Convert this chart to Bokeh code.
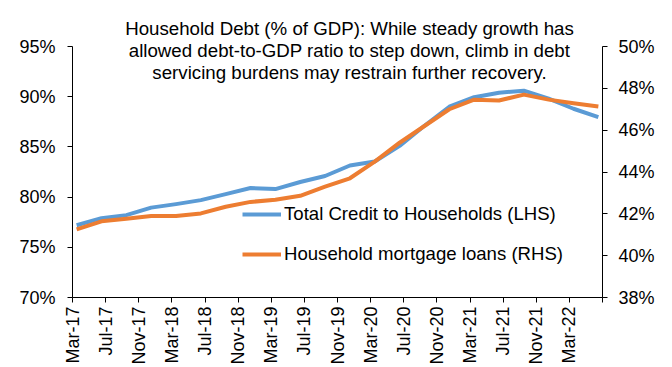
from bokeh.plotting import figure
from bokeh.models import (Range1d, LinearAxis, FixedTicker, Legend, LegendItem,
                          Label, PrintfTickFormatter, ColumnDataSource)
from bokeh.embed import file_html
from bokeh.resources import INLINE

# ---- data -------------------------------------------------------------
quarters = ["Mar-17", "Jun-17", "Sep-17", "Dec-17", "Mar-18", "Jun-18", "Sep-18", "Dec-18",
            "Mar-19", "Jun-19", "Sep-19", "Dec-19", "Mar-20", "Jun-20", "Sep-20", "Dec-20",
            "Mar-21", "Jun-21", "Sep-21", "Dec-21", "Mar-22", "Jun-22"]
total_credit_lhs = [77.2, 77.9, 78.2, 78.95, 79.3, 79.7, 80.3, 80.9, 80.8, 81.5, 82.1, 83.15,
                    83.55, 85.1, 87.1, 89.0, 89.95, 90.4, 90.6, 89.8, 88.8, 87.97]
mortgage_rhs = [41.26, 41.64, 41.76, 41.9, 41.9, 42.02, 42.34, 42.57, 42.67, 42.86, 43.3, 43.7,
                44.5, 45.4, 46.2, 47.0, 47.46, 47.42, 47.7, 47.46, 47.29, 47.13]
tick_labels = ["Mar-17", "Jul-17", "Nov-17", "Mar-18", "Jul-18", "Nov-18", "Mar-19", "Jul-19",
               "Nov-19", "Mar-20", "Jul-20", "Nov-20", "Mar-21", "Jul-21", "Nov-21", "Mar-22"]
lhs_ticks = [70, 75, 80, 85, 90, 95]
rhs_ticks = [38, 40, 42, 44, 46, 48, 50]
title_lines = ["Household Debt (% of GDP): While steady growth has",
               "allowed debt-to-GDP ratio to step down, climb in debt",
               "servicing burdens may restrain further recovery."]
series_names = ["Total Credit to Households (LHS)", "Household mortgage loans (RHS)"]

# month slots: quarter i sits in the middle of month slot 3*i
month_pos = [3 * i + 0.5 for i in range(len(quarters))]
n_months = 64

src = ColumnDataSource(dict(x=month_pos, lhs=total_credit_lhs, rhs=mortgage_rhs, q=quarters))

FONT = "Liberation Sans"
BLUE = "#5B9BD5"
ORANGE = "#ED7D31"

# the frame reaches the top of the canvas so the title can sit inside it;
# axes are bounded to their tick span
FRAME_H = 297.0
AXIS_H = 251.0
lhs_top = lhs_ticks[0] + (lhs_ticks[-1] - lhs_ticks[0]) * FRAME_H / AXIS_H
rhs_top = rhs_ticks[0] + (rhs_ticks[-1] - rhs_ticks[0]) * FRAME_H / AXIS_H

p = figure(width=672, height=367, output_backend="svg", toolbar_location=None,
           x_range=Range1d(0, n_months), y_range=Range1d(lhs_ticks[0], lhs_top),
           min_border_left=72, min_border_right=70, min_border_top=0, min_border_bottom=70)
p.outline_line_color = None
p.xgrid.visible = False
p.ygrid.visible = False
p.background_fill_color = "white"
p.border_fill_color = "white"

p.extra_y_ranges = {"rhs": Range1d(rhs_ticks[0], rhs_top)}

r1 = p.line("x", "lhs", source=src, line_color=BLUE, line_width=4, line_join="round")
r2 = p.line("x", "rhs", source=src, line_color=ORANGE, line_width=4, line_join="round",
            y_range_name="rhs")

# x axis
xt = [4 * i for i in range(len(tick_labels) + 1)]
p.xaxis.ticker = FixedTicker(ticks=xt)
overrides = {4 * i: lab for i, lab in enumerate(tick_labels)}
overrides[xt[-1]] = ""
p.xaxis.major_label_overrides = overrides
p.xaxis.major_label_orientation = 3.14159265 / 2
p.xaxis.minor_tick_line_color = None

# left axis
p.yaxis.ticker = FixedTicker(ticks=lhs_ticks)
p.yaxis.formatter = PrintfTickFormatter(format="%d%%")
p.yaxis.minor_tick_line_color = None
p.yaxis.major_label_standoff = 12
p.yaxis.bounds = (lhs_ticks[0], lhs_ticks[-1])

# right axis
ax_r = LinearAxis(y_range_name="rhs", ticker=FixedTicker(ticks=rhs_ticks),
                  formatter=PrintfTickFormatter(format="%d%%"),
                  bounds=(rhs_ticks[0], rhs_ticks[-1]))
ax_r.minor_tick_line_color = None
ax_r.major_label_standoff = 11
p.add_layout(ax_r, "right")

for ax in [p.xaxis[0], p.yaxis[0], ax_r]:
    ax.axis_line_color = "black"
    ax.major_tick_line_color = "black"
    ax.major_tick_out = 5
    ax.major_tick_in = 0
    ax.major_label_text_font = FONT
    ax.major_label_text_font_size = "18px"
    ax.major_label_text_color = "black"
p.xaxis.major_label_standoff = 4

legend = Legend(items=[LegendItem(label=series_names[0], renderers=[r1]),
                       LegendItem(label=series_names[1], renderers=[r2])],
                location=(170, 32), padding=0, margin=0, spacing=18,
                glyph_width=39, glyph_height=20, label_height=20, label_standoff=3,
                border_line_color=None, background_fill_alpha=0,
                label_text_font=FONT, label_text_font_size="18.6px", label_text_color="black")
p.add_layout(legend)

# title as three centred labels (overlapping the plot top like the original)
title_x = 33.45
title_y = [96.79, 94.6, 92.41]
for line, ty in zip(title_lines, title_y):
    p.add_layout(Label(x=title_x, y=ty, text=line, text_align="center",
                       text_baseline="alphabetic", text_font=FONT,
                       text_font_size="18.7px", text_color="black"))

open("out.html", "w").write(file_html(p, INLINE))
